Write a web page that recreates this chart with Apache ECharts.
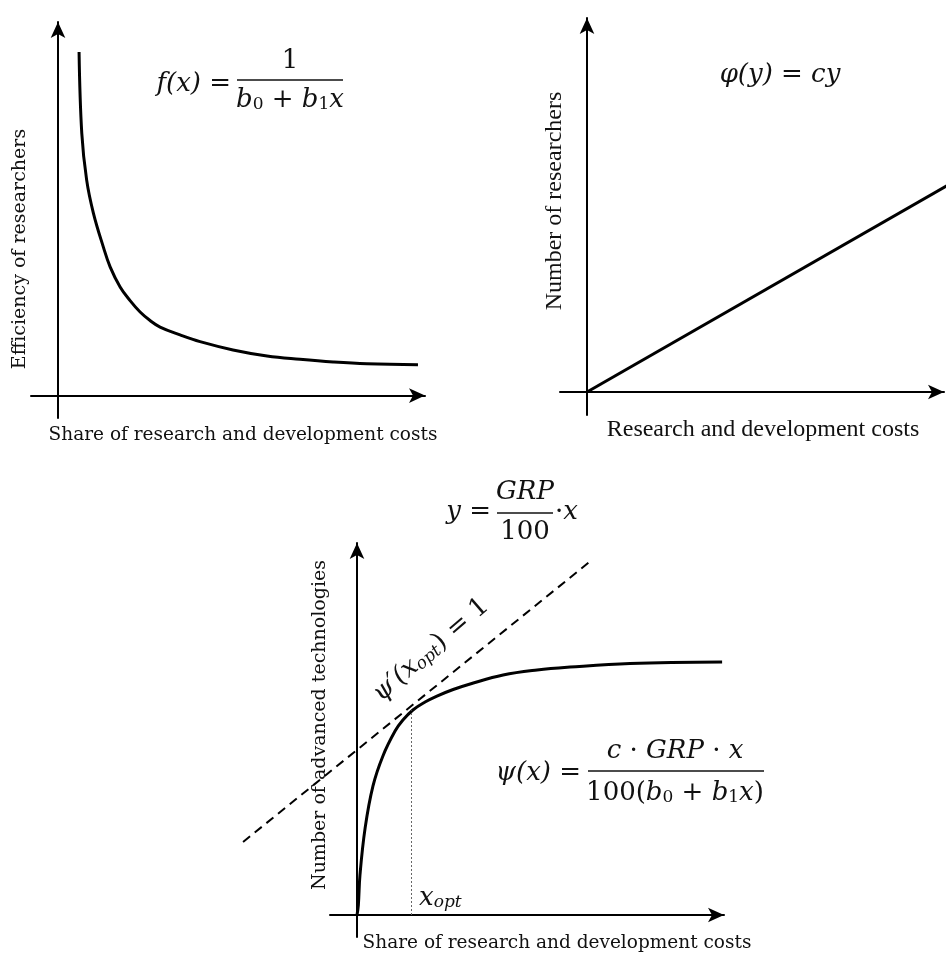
<!DOCTYPE html>
<html>
<head>
<meta charset="utf-8">
<script src="https://cdn.jsdelivr.net/npm/echarts@6/dist/echarts.min.js"></script>
<style>
  html, body { margin: 0; padding: 0; background: #fff; }
  #chart { width: 952px; height: 958px; }
</style>
</head>
<body>
<div id="chart"></div>
<script>
// efficiency of researchers (top left)
const effX = [0.78, 0.88, 1.06, 1.31, 1.68, 1.93, 2.30, 2.67, 3.04, 3.41, 3.78, 4.52, 5.26, 6.48, 7.74, 8.96, 10.19, 11.44, 13.33]
const effY = [15.34, 11.72, 9.63, 8.15, 6.63, 5.75, 4.85, 4.24, 3.73, 3.35, 3.06, 2.71, 2.41, 2.04, 1.77, 1.62, 1.50, 1.42, 1.38]

// number of researchers (top right)
const resX = [0, 13.37]
const resY = [0, 9.0]

// number of advanced technologies (bottom)
const techX = [0, 0.05, 0.11, 0.30, 0.59, 0.96, 1.41, 1.70, 2.07, 2.52, 2.96, 3.56, 4.19, 5.41, 6.67, 7.89, 10.11, 13.52]
const techY = [0, 0.45, 1.82, 3.95, 5.86, 7.23, 8.36, 8.86, 9.32, 9.68, 9.95, 10.25, 10.50, 10.91, 11.14, 11.27, 11.43, 11.50]
const tangentX = [-4.22, 8.70]
const tangentY = [3.32, 16.14]
const xOpt = 2.02
const yOpt = 9.3

const zip = (xs, ys) => xs.map((x, i) => [x, ys[i]])

const SERIF = '"DejaVu Serif", serif'
const TIMES = '"Liberation Serif", serif'
const INK = '#111'

const axisBase = (i, min, max) => ({
  type: 'value',
  gridIndex: i,
  min,
  max,
  axisLine: {
    onZero: true,
    symbol: ['none', 'arrow'],
    symbolSize: [11, 16],
    lineStyle: { color: '#000', width: 2 }
  },
  axisTick: { show: false },
  axisLabel: { show: false },
  splitLine: { show: false }
})

// hidden axis, only used to place the tangent line outside the visible axes
const hiddenAxis = (i, min, max) => ({ type: 'value', gridIndex: i, min, max, show: false })

const rich = (size) => ({
  i: { fontFamily: SERIF, fontStyle: 'italic', fontSize: size, color: INK },
  n: { fontFamily: SERIF, fontStyle: 'normal', fontSize: size, color: INK },
  s: { fontFamily: SERIF, fontStyle: 'italic', fontSize: Math.round(size * 0.64), verticalAlign: 'bottom', color: INK },
  d: { fontFamily: SERIF, fontStyle: 'normal', fontSize: Math.round(size * 0.64), verticalAlign: 'bottom', color: INK }
})

const txt = (x, y, text, opts = {}) => ({
  type: 'text',
  x,
  y,
  rotation: opts.rotation || 0,
  style: {
    text,
    font: opts.font || `19px ${SERIF}`,
    fill: INK,
    align: opts.align || 'center',
    verticalAlign: 'middle',
    rich: opts.rich
  }
})

const bar = (x1, x2, y) => ({
  type: 'line',
  shape: { x1, y1: y, x2, y2: y },
  style: { stroke: INK, lineWidth: 1.4 }
})

const fm = rich(26)

const chart = echarts.init(document.getElementById('chart'))
chart.setOption({
  backgroundColor: '#fff',
  animation: false,
  grid: [
    { left: 31, top: 22, width: 394, height: 396 },
    { left: 560, top: 18, width: 384, height: 397 },
    { left: 330, top: 543, width: 394, height: 394 },
    { left: 222, top: 543, width: 502, height: 394 }
  ],
  xAxis: [axisBase(0, -1, 13.59), axisBase(1, -1, 13.22), axisBase(2, -1, 13.59), hiddenAxis(3, -5, 13.59)],
  yAxis: [axisBase(0, -1, 16.68), axisBase(1, -1, 16.26), axisBase(2, -1, 16.91), hiddenAxis(3, -1, 16.91)],
  series: [
    {
      type: 'line', xAxisIndex: 0, yAxisIndex: 0,
      data: zip(effX, effY), smooth: 0.4,
      showSymbol: false, clip: false,
      lineStyle: { color: '#000', width: 3 }
    },
    {
      type: 'line', xAxisIndex: 1, yAxisIndex: 1,
      data: zip(resX, resY), showSymbol: false, clip: false,
      lineStyle: { color: '#000', width: 3 }
    },
    {
      type: 'line', xAxisIndex: 2, yAxisIndex: 2,
      data: zip(techX, techY), smooth: 0.4,
      showSymbol: false, clip: false,
      lineStyle: { color: '#000', width: 3 },
      markLine: {
        silent: true, symbol: 'none', label: { show: false },
        lineStyle: { color: '#666', width: 1, type: [2, 2] },
        data: [[{ coord: [xOpt, 0] }, { coord: [xOpt, yOpt] }]]
      }
    },
    {
      type: 'line', xAxisIndex: 3, yAxisIndex: 3,
      data: zip(tangentX, tangentY), showSymbol: false, clip: false,
      lineStyle: { color: '#000', width: 2, type: [9, 6] }
    }
  ],
  graphic: [
    // top left
    txt(20, 249, 'Efficiency of researchers', { rotation: Math.PI / 2 }),
    txt(243, 435, 'Share of research and development costs', { font: `18.5px ${SERIF}` }),
    txt(231, 84, '{i|f(x) =}', { align: 'right', rich: fm }),
    txt(290, 61, '{n|1}', { rich: fm }),
    bar(237, 343, 80),
    txt(290, 100, '{i|b}{d|0}{n| + }{i|b}{d|1}{i|x}', { rich: fm }),
    // top right
    txt(555, 201, 'Number of researchers', { rotation: Math.PI / 2, font: `24px ${TIMES}` }),
    txt(763, 430, 'Research and development costs', { font: `24px ${TIMES}` }),
    txt(780, 75, '{i|φ(y) = cy}', { rich: fm }),
    // bottom
    txt(320, 725, 'Number of advanced technologies', { rotation: Math.PI / 2 }),
    txt(557, 943, 'Share of research and development costs', { font: `18.5px ${SERIF}` }),
    txt(491, 512, '{i|y =}', { align: 'right', rich: fm }),
    txt(525, 492, '{i|GRP}', { rich: fm }),
    bar(497, 553, 513),
    txt(525, 532, '{n|100}', { rich: fm }),
    txt(555, 512, '{n|·}{i|x}', { align: 'left', rich: fm }),
    txt(581, 773, '{i|ψ(x) =}', { align: 'right', rich: fm }),
    txt(675, 751, '{i|c}{n| · }{i|GRP}{n| · }{i|x}', { rich: fm }),
    bar(588, 764, 771),
    txt(675, 793, '{n|100(}{i|b}{d|0}{n| + }{i|b}{d|1}{i|x}{n|)}', { rich: fm }),
    txt(431, 650, '{i|ψ′(x}{s|opt}{n|) = 1}', { rotation: 0.712, rich: fm }),
    txt(419, 898, '{i|x}{s|opt}', { align: 'left', rich: fm })
  ]
})
</script>
</body>
</html>
